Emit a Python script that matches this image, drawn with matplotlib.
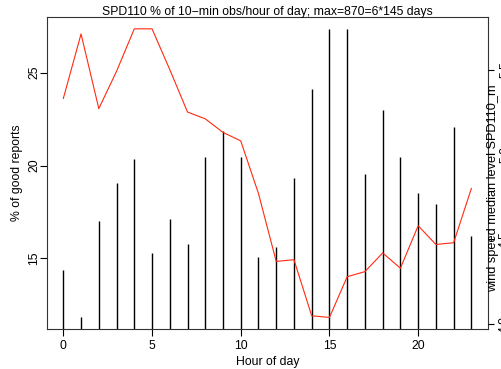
import matplotlib
matplotlib.use("Agg")
import matplotlib.pyplot as plt
import numpy as np

hours = list(range(24))
pct_good = [14.37, 11.82, 17.02, 19.07, 20.34, 15.31, 17.13, 15.75, 20.46, 21.84,
            20.46, 15.05, 15.63, 19.32, 24.14, 27.36, 27.36, 19.54, 22.98, 20.46,
            18.52, 17.95, 22.05, 16.23]
wind_median = [5.33, 5.71, 5.27, 5.49, 5.74, 5.74, 5.50, 5.25, 5.21, 5.13,
               5.08, 4.77, 4.37, 4.38, 4.05, 4.04, 4.28, 4.31, 4.42, 4.33,
               4.58, 4.47, 4.48, 4.80]
left_ticks = [15, 20, 25]
x_ticks = [0, 5, 10, 15, 20]
right_ticks = [4.0, 4.5, 5.0, 5.5]

title = "SPD110 % of 10\u2212min obs/hour of day; max=870=6*145 days"

plt.rcParams['font.family'] = ['Liberation Sans', 'DejaVu Sans']

W, H = 501, 369
fig = plt.figure(figsize=(W/100, H/100), dpi=100)
L, R, B, T = 47, 487.7, 329, 17.3
ax = fig.add_axes([L/W, 1-B/H, (R-L)/W, (B-T)/H])

def padded(vals):
    lo, hi = min(vals), max(vals)
    d = (hi - lo) * 0.04
    return lo - d, hi + d

ax.vlines(hours, 0, pct_good, color='black', lw=1.0)
ax.set_xlim(padded(hours))
ax.set_ylim(padded(pct_good))
ax.set_xticks(x_ticks)
ax.set_yticks(left_ticks)
fs = 8.8
ax.tick_params(direction='out', length=5, width=0.8, labelsize=fs, colors='black', pad=3)
ax.tick_params(axis='y', pad=0)
for lab in ax.get_yticklabels():
    lab.set_rotation(90)
    lab.set_va('center')
for s in ax.spines.values():
    s.set_linewidth(0.8)
    s.set_color('#333333')
ax.set_xlabel("Hour of day", fontsize=fs, labelpad=3)
fig.text(17/W, 1-173/H, "% of good reports", rotation=90,
         ha='center', va='center', fontsize=fs)

ax2 = ax.twinx()
ax2.plot(hours, wind_median, color='#ff2a10', lw=0.8)
ax2.set_ylim(padded(wind_median))
ax2.set_yticks(right_ticks)
ax2.set_yticklabels([f"{t:.1f}" for t in right_ticks])
ax2.tick_params(direction='out', length=4, width=0.8, labelsize=fs, pad=4.2)
for lab in ax2.get_yticklabels():
    lab.set_rotation(90)
    lab.set_va('center')
for s in ax2.spines.values():
    s.set_visible(False)
fig.text(493/W, 1-188/H, "wind speed median level SPD110_m", rotation=90,
         ha='center', va='center', fontsize=fs + 0.4)

fig.text((L+R)/2/W, 1-11.5/H, title, ha='center', va='center', fontsize=fs)

fig.savefig("out.png", dpi=100)
